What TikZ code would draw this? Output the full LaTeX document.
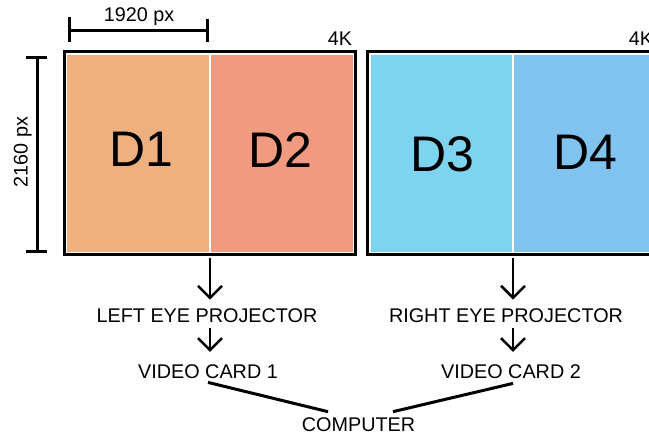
\documentclass[tikz,border=0pt]{standalone}
\usepackage{fontspec}
\setmainfont{Liberation Sans}
\usetikzlibrary{arrows.meta}

\definecolor{dOne}{HTML}{EFB080}
\definecolor{dTwo}{HTML}{F09A80}
\definecolor{dThree}{HTML}{7ED3EF}
\definecolor{dFour}{HTML}{80C3EF}

\tikzset{
  screen/.style={draw=black, line width=3pt, minimum width=291pt, minimum height=203pt, inner sep=0pt},
  lbl/.style={inner sep=0pt, anchor=base, font=\fontsize{19.8}{23}\selectfont},
  big/.style={inner sep=0pt, anchor=base, font=\fontsize{50}{56}\selectfont},
  dimline/.style={line width=3pt},
  flow/.style={line width=2.6pt, -{Straight Barb[length=12pt, width=24pt, line width=2.6pt]}},
  link/.style={line width=3pt}
}

\begin{document}
\begin{tikzpicture}[x=1pt, y=-1pt]
  \useasboundingbox (0,0) rectangle (649,437);
  \clip (0,0) rectangle (649,437);

  % screen frames
  \node[screen] (leftscreen) at (210,153) {};
  \node[screen] (rightscreen) at (513,153) {};

  % display regions
  \fill[dOne]   (67,55) rectangle (210,252);
  \fill[dTwo]   (210,55) rectangle (353,252);
  \fill[dThree] (370.5,55) rectangle (513,252);
  \fill[dFour]  (513,55) rectangle (656,252);
  \draw[white, line width=2.4pt] (210,55) -- (210,252);
  \draw[white, line width=2.4pt] (513,55) -- (513,252);

  \node[big] (d1) at (141,166.7) {D1};
  \node[big] (d2) at (280.5,167) {D2};
  \node[big] (d3) at (442,171) {D3};
  \node[big] (d4) at (585,169) {D4};

  \node[lbl] (kleft) at (340,45) {4K};
  \node[lbl] (kright) at (641,45) {4K};

  % width dimension
  \draw[dimline] (69,30) -- (207,30);
  \draw[dimline] (69,17) -- (69,41.5);
  \draw[dimline] (207,19) -- (207,42);
  \node[lbl] (wdim) at (139,21.7) {1920 px};

  % height dimension
  \draw[dimline] (37,57) -- (37,251);
  \draw[dimline] (26,57) -- (47,57);
  \draw[dimline] (26,251) -- (47,251);
  \node[lbl, rotate=90] (hdim) at (27.5,152) {2160 px};

  % signal chain
  \node[lbl] (lep) at (207,322.7) {LEFT EYE PROJECTOR};
  \node[lbl] (rep) at (506,322.7) {RIGHT EYE PROJECTOR};
  \node[lbl] (vc1) at (208,378) {VIDEO CARD 1};
  \node[lbl] (vc2) at (511,378) {VIDEO CARD 2};
  \node[lbl] (comp) at (358.5,431.7) {COMPUTER};

  \draw[flow, shorten <=1.5pt, shorten >=9pt] (leftscreen.south) -- (leftscreen.south |- lep.north);
  \draw[flow, shorten <=1.5pt, shorten >=9pt] (rightscreen.south) -- (rightscreen.south |- rep.north);
  \draw[flow, shorten <=5pt, shorten >=12pt] (leftscreen.south |- lep.south) -- (leftscreen.south |- vc1.north);
  \draw[flow, shorten <=5pt, shorten >=12pt] (rightscreen.south |- rep.south) -- (rightscreen.south |- vc2.north);

  \draw[link] ([yshift=-4pt]vc1.south) -- ([xshift=-30.5pt, yshift=6pt]comp.north);
  \draw[link] ([xshift=2pt, yshift=-5pt]vc2.south) -- ([xshift=34.5pt, yshift=6pt]comp.north);
\end{tikzpicture}
\end{document}
